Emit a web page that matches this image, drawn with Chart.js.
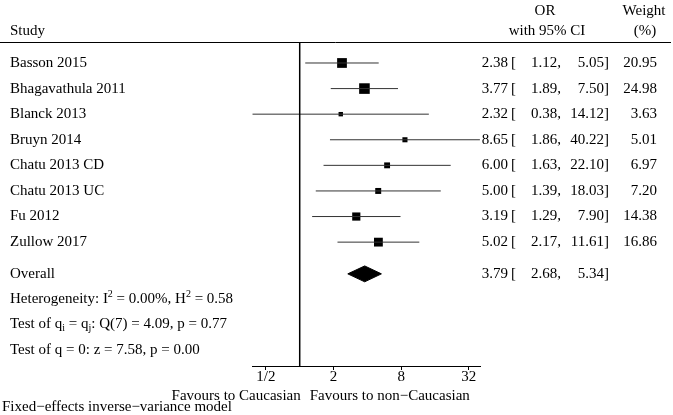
<!DOCTYPE html>
<html>
<head>
<meta charset="utf-8">
<script src="https://cdn.jsdelivr.net/npm/chart.js@4"></script>
<style>
html,body{margin:0;padding:0;background:#fff}
#wrap{width:673px;height:415px;position:relative}
</style>
</head>
<body>
<div id="wrap"><canvas id="forest"></canvas></div>
<script>
// study level data
const studies = ['Basson 2015','Bhagavathula 2011','Blanck 2013','Bruyn 2014','Chatu 2013 CD','Chatu 2013 UC','Fu 2012','Zullow 2017']
const oddsRatios = [2.38,3.77,2.32,8.65,6.00,5.00,3.19,5.02]
const ciLow = [1.12,1.89,0.38,1.86,1.63,1.39,1.29,2.17]
const ciHigh = [5.05,7.50,14.12,40.22,22.10,18.03,7.90,11.61]
const weights = [20.95,24.98,3.63,5.01,6.97,7.20,14.38,16.86]

// overall: OR, low, high
const overallLabel = 'Overall'
const overall = [3.79,2.68,5.34]

const tickValues = [0.5,2,8,32]
const tickLabels = ['1/2','2','8','32']

const FONT = '15px "Liberation Serif", "Times New Roman", serif'
const SMALL = '10px "Liberation Serif", "Times New Roman", serif'

// row positions on the y scale
const overallRow = 8.24
const statRows = [9.22,10.2,11.2]
const yMin = -0.82, yMax = 11.84

let datasets = []

// no-effect line at OR = 1
datasets.push({
type:'line',
data:[{x:1,y:yMin},{x:1,y:yMax}],
borderColor:'#000',
borderWidth:1.5,
pointRadius:0
})

// confidence intervals
studies.forEach((s,i)=>{
datasets.push({
type:'line',
data:[{x:ciLow[i],y:i},{x:ciHigh[i],y:i}],
borderColor:'#333',
borderWidth:1,
pointRadius:0
})
})

// weight boxes
datasets.push({
type:'scatter',
data: oddsRatios.map((v,i)=>({x:v,y:i})),
pointStyle:'rect',
backgroundColor:'#000',
borderWidth:0,
pointRadius: weights.map(w=>(2*Math.sqrt(w)+0.6)/1.414),
pointHoverRadius: weights.map(w=>(2*Math.sqrt(w)+0.6)/1.414)
})

// overall diamond: upper and lower halves, filled between
const dh = 0.31
datasets.push({
type:'line',
data:[{x:overall[1],y:overallRow},{x:overall[0],y:overallRow-dh},{x:overall[2],y:overallRow}],
borderColor:'#000',
backgroundColor:'#000',
borderWidth:1,
pointRadius:0,
fill:'+1'
})
datasets.push({
type:'line',
data:[{x:overall[1],y:overallRow},{x:overall[0],y:overallRow+dh},{x:overall[2],y:overallRow}],
borderColor:'#000',
backgroundColor:'#000',
borderWidth:1,
pointRadius:0,
fill:false
})

function drawRich(ctx,parts,x,y){
let cx = x
parts.forEach(p=>{
ctx.font = p.s ? SMALL : FONT
ctx.fillText(p.t,cx,y+(p.s==='sub'?4:p.s==='sup'?-5:0))
cx += ctx.measureText(p.t).width
})
}

const textPlugin = {
id:'forestText',
afterDraw(chart){
const ctx = chart.ctx
const y = chart.scales.y
const area = chart.chartArea
ctx.save()
ctx.fillStyle = '#000'
ctx.font = FONT
ctx.textBaseline = 'middle'

// header
ctx.textAlign = 'left'
ctx.fillText('Study',10,31)
ctx.textAlign = 'center'
ctx.fillText('OR',545,11)
ctx.fillText('with 95% CI',547,31)
ctx.fillText('Weight',644,11)
ctx.fillText('(%)',645,31)

ctx.strokeStyle = '#000'
ctx.lineWidth = 1
ctx.beginPath()
ctx.moveTo(0,area.top+0.5)
ctx.lineTo(671,area.top+0.5)
ctx.stroke()

// study rows
studies.forEach((s,i)=>{
const py = y.getPixelForValue(i)
ctx.textAlign = 'left'
ctx.fillText(s,10,py)
ctx.textAlign = 'right'
ctx.fillText(oddsRatios[i].toFixed(2),508,py)
ctx.textAlign = 'left'
ctx.fillText('[',511,py)
ctx.textAlign = 'right'
ctx.fillText(ciLow[i].toFixed(2)+',',561,py)
ctx.fillText(ciHigh[i].toFixed(2)+']',609,py)
ctx.fillText(weights[i].toFixed(2),657,py)
})

// overall row
const oy = y.getPixelForValue(overallRow)
ctx.textAlign = 'left'
ctx.fillText(overallLabel,10,oy)
ctx.textAlign = 'right'
ctx.fillText(overall[0].toFixed(2),508,oy)
ctx.textAlign = 'left'
ctx.fillText('[',511,oy)
ctx.textAlign = 'right'
ctx.fillText(overall[1].toFixed(2)+',',561,oy)
ctx.fillText(overall[2].toFixed(2)+']',609,oy)

// heterogeneity stats
ctx.textAlign = 'left'
drawRich(ctx,[{t:'Heterogeneity: I'},{t:'2',s:'sup'},{t:' = 0.00%, H'},{t:'2',s:'sup'},{t:' = 0.58'}],10,y.getPixelForValue(statRows[0]))
drawRich(ctx,[{t:'Test of q'},{t:'i',s:'sub'},{t:' = q'},{t:'j',s:'sub'},{t:': Q(7) = 4.09, p = 0.77'}],10,y.getPixelForValue(statRows[1]))
drawRich(ctx,[{t:'Test of q = 0: z = 7.58, p = 0.00'}],10,y.getPixelForValue(statRows[2]))

// footer
ctx.font = FONT
const cx = chart.scales.x.getPixelForValue(1)
ctx.textAlign = 'right'
ctx.fillText('Favours to Caucasian',cx+1,area.bottom+30)
ctx.textAlign = 'left'
ctx.fillText('Favours to non\u2212Caucasian',cx+10,area.bottom+30)
ctx.fillText('Fixed\u2212effects inverse\u2212variance model',2,area.bottom+41)
ctx.restore()
}
}

new Chart(document.getElementById('forest'),{
type:'scatter',
data:{datasets},
options:{
responsive:true,
maintainAspectRatio:false,
animation:false,
layout:{padding:{left:252,right:193,top:42,bottom:30}},
plugins:{
legend:{display:false},
tooltip:{enabled:false}
},
scales:{
x:{
type:'logarithmic',
min:0.376,
max:40.3,
afterBuildTicks(scale){
scale.ticks = tickValues.map(v=>({value:v}))
},
ticks:{
color:'#000',
padding:0,
autoSkip:false,
maxRotation:0,
font:{family:'"Liberation Serif", serif',size:15,lineHeight:1},
callback:(v,i)=>tickLabels[i]
},
grid:{
drawOnChartArea:false,
drawTicks:true,
tickLength:4,
color:'#000'
},
border:{color:'#000',width:1}
},
y:{
type:'linear',
display:false,
reverse:true,
min:yMin,
max:yMax
}
}
},
plugins:[textPlugin]
})
</script>
</body>
</html>
